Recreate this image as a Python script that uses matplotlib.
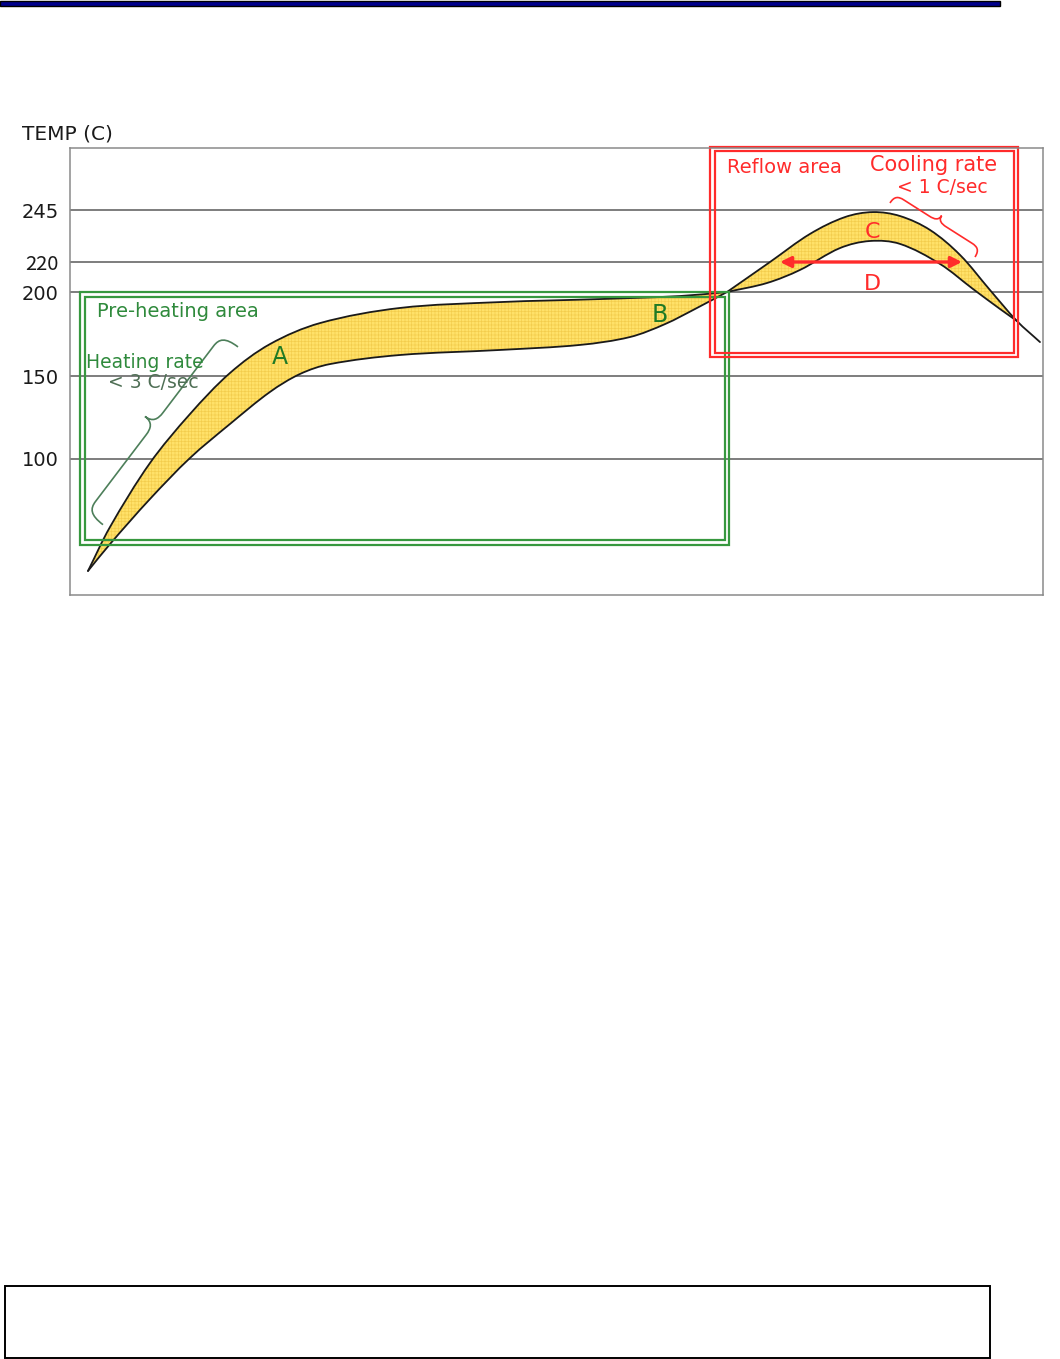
import numpy as np
import matplotlib
matplotlib.use("Agg")
import matplotlib.pyplot as plt
from matplotlib.path import Path
from matplotlib.patches import PathPatch, Rectangle
from matplotlib.transforms import IdentityTransform

# ---- reflow profile window: time (s) and temperature (C) ----
heat_time_upper = [18, 40, 80, 120, 160, 200, 250, 330, 430, 530, 610, 657]
heat_temp_upper = [32.5, 59.0, 97.6, 127.1, 151.8, 169.0, 181.5, 190.5, 194.0,
                   195.8, 197.6, 200.0]
heat_time_lower = [18, 40, 80, 120, 160, 200, 230, 260, 330, 430, 510, 560, 595, 627, 657]
heat_temp_lower = [32.5, 48.7, 75.9, 100.6, 121.1, 140.4, 151.2, 157.1, 162.5,
                   165.5, 168.5, 173.2, 180.9, 190.5, 200.0]

reflow_time_upper = [657, 700, 740, 775, 803, 830, 860, 890, 920, 947, 970]
reflow_temp_upper = [200.0, 220.0, 233.5, 241.6, 244.0, 242.1, 235.4, 223.4,
                     201.3, 182.7, 170.2]
reflow_time_lower = [657, 697, 730, 770, 800, 830, 870, 903, 930, 947]
reflow_temp_lower = [200.0, 206.0, 214.7, 226.7, 230.1, 228.7, 218.7, 202.0,
                     189.9, 182.7]

grid_temps = [100, 150, 200, 220, 245]
grid_labels = ["100", "150", "200", "220", "245"]

# zones (time span, temperature span)
preheat_zone = (10, 659, 48.4, 200.0)
reflow_zone = (640, 948, 161.3, 275.5)
# time above liquidus (arrow D) at 220 C
tal_time = (710, 892)
tal_temp = 220

GREEN = "#37983f"
GREEN_TXT = "#2f8a3c"
GREEN_DARK = "#1f7a25"
RED = "#ff2b2b"
FILL = "#ffe169"
HATCH = "#f3cc4c"

plt.rcParams["hatch.linewidth"] = 0.45
plt.rcParams["font.family"] = ["DejaVu Sans"]

W, H = 1060, 1359
fig = plt.figure(figsize=(W / 100, H / 100), dpi=100)
ax = fig.add_axes([70 / W, 1 - 595 / H, 973 / W, 447 / H])

# schematic (piecewise linear) temperature axis
scale_temps = [0, 18, 100, 150, 200, 220, 245, 275, 300]
scale_pos = [-30, 0, 136, 219, 303, 333, 385, 447, 499]


def fwd(t):
    return np.interp(t, scale_temps, scale_pos)


def inv(p):
    return np.interp(p, scale_pos, scale_temps)


ax.set_yscale("function", functions=(fwd, inv))
ax.set_xlim(0, 973)
ax.set_ylim(18, 275)
ax.set_xticks([])
ax.set_yticks(grid_temps, grid_labels)
ax.tick_params(axis="y", length=0, pad=8, labelsize=14, labelcolor="#1a1a1a")
for lab in ax.get_yticklabels():
    if lab.get_text() == "220":
        lab.set_fontfamily(["Noto Sans CJK JP", "DejaVu Sans"])
        lab.set_fontsize(14.5)
ax.grid(axis="y", color="#5a5a5a", lw=1.1)
ax.set_axisbelow(True)
for sp in ax.spines.values():
    sp.set_color("#8a8a8a")
    sp.set_linewidth(1.1)


def smooth_segments(xs, ys):
    """Cubic Bezier segments through the points, built in display space."""
    p = ax.transData.transform(np.column_stack([xs, ys]))
    n = len(p)
    d = np.zeros_like(p)
    d[1:-1] = p[2:] - p[:-2]
    d[0] = p[1] - p[0]
    d[-1] = p[-1] - p[-2]
    d = d / np.linalg.norm(d, axis=1)[:, None]
    segs = []
    for i in range(n - 1):
        L = np.linalg.norm(p[i + 1] - p[i]) / 3
        segs.append((p[i], p[i] + d[i] * L, p[i + 1] - d[i + 1] * L, p[i + 1]))
    return segs


def seg_path(segs):
    verts = [segs[0][0]]
    codes = [Path.MOVETO]
    for s in segs:
        verts += [s[1], s[2], s[3]]
        codes += [Path.CURVE4] * 3
    return Path(verts, codes)


def band(up_segs, lo_segs):
    verts = [up_segs[0][0]]
    codes = [Path.MOVETO]
    for s in up_segs:
        verts += [s[1], s[2], s[3]]
        codes += [Path.CURVE4] * 3
    verts.append(lo_segs[-1][3])
    codes.append(Path.LINETO)
    for s in reversed(lo_segs):
        verts += [s[2], s[1], s[0]]
        codes += [Path.CURVE4] * 3
    verts.append(verts[0])
    codes.append(Path.CLOSEPOLY)
    return Path(verts, codes)


def add_path(path, **kw):
    patch = PathPatch(path, transform=IdentityTransform(), **kw)
    ax.add_artist(patch)
    return patch


hu = smooth_segments(heat_time_upper, heat_temp_upper)
hl = smooth_segments(heat_time_lower, heat_temp_lower)
ru = smooth_segments(reflow_time_upper, reflow_temp_upper)
rl = smooth_segments(reflow_time_lower, reflow_temp_lower)

for up, lo in ((hu, hl), (ru[:-1], rl)):
    add_path(band(up, lo), facecolor=FILL, edgecolor=HATCH, lw=0,
             hatch="+++++", zorder=1.2)
for segs in (hu, hl, ru, rl):
    add_path(seg_path(segs), facecolor="none", edgecolor="#1a1a1a", lw=1.3,
             zorder=1.5, capstyle="round")


def double_box(zone, color, gap=4.5, lw=1.6):
    x0, x1, t0, t1 = zone
    (a, b), (c, d) = ax.transData.transform([(x0, t0), (x1, t1)])
    for g in (0, gap):
        ax.add_artist(Rectangle((a + g, b + g), (c - a) - 2 * g, (d - b) - 2 * g,
                                transform=IdentityTransform(), fill=False,
                                edgecolor=color, lw=lw, zorder=2, clip_on=False))


double_box(preheat_zone, GREEN)
double_box(reflow_zone, RED)


def brace(p0, p1, h, c, r, color, lw=1.2):
    """Curly brace between two points, cusp offset to the left of p0->p1."""
    a, b = ax.transData.transform([p0, p1])
    u = b - a
    L = np.linalg.norm(u)
    u = u / L
    n = np.array([-u[1], u[0]])

    def P(s, v):
        return a + u * s + n * v

    m = L / 2
    verts = [P(0, 0),
             P(0, h * 0.8), P(r * 0.35, h), P(r, h),
             P(m - r, h),
             P(m - r * 0.4, h), P(m, h + (c - h) * 0.2), P(m, c),
             P(m, h + (c - h) * 0.2), P(m + r * 0.4, h), P(m + r, h),
             P(L - r, h),
             P(L - r * 0.35, h), P(L, h * 0.8), P(L, 0)]
    codes = ([Path.MOVETO] + [Path.CURVE4] * 3 + [Path.LINETO] + [Path.CURVE4] * 6
             + [Path.LINETO] + [Path.CURVE4] * 3)
    add_path(Path(verts, codes), facecolor="none", edgecolor=color, lw=lw, zorder=2.5)


brace((33, 60.4), (168, 167.3), h=20, c=32, r=14, color="#4d7f5a")
brace((820, 248.4), (905, 222.4), h=10, c=17, r=10, color=RED)

# arrow D across the time above 220 C
ax.annotate("", xy=(tal_time[1], tal_temp), xytext=(tal_time[0], tal_temp),
            arrowprops=dict(arrowstyle="<|-|>", color=RED, lw=2.4,
                            mutation_scale=16, shrinkA=0, shrinkB=0), zorder=3)

# labels
ax.text(27, 188.1, "Pre-heating area", color=GREEN_TXT, fontsize=14,
        ha="left", va="center", zorder=3)
ax.text(16, 158.3, "Heating rate", color=GREEN_TXT, fontsize=13.5,
        ha="left", va="center", zorder=3)
ax.text(38, 145.8, "< 3 C/sec", color="#4f6f55", fontsize=13.5,
        ha="left", va="center", zorder=3)
ax.text(210, 161.3, "A", color=GREEN_DARK, fontsize=17, ha="center", va="center", zorder=3)
ax.text(590, 186.3, "B", color=GREEN_DARK, fontsize=17, ha="center", va="center", zorder=3)
ax.text(657, 265.7, "Reflow area", color=RED, fontsize=14, ha="left", va="center", zorder=3)
ax.text(800, 266.7, "Cooling rate", color=RED, fontsize=15, ha="left", va="center", zorder=3)
ax.text(827, 256.1, "< 1 C/sec", color=RED, fontsize=13.5, ha="left", va="center", zorder=3)
ax.text(802, 234.4, "C", color=RED, fontsize=16, ha="center", va="center", zorder=3)
ax.text(802, 205.3, "D", color=RED, fontsize=16, ha="center", va="center", zorder=3)

fig.text(22 / W, 1 - 134 / H, "TEMP (C)", fontsize=14.5, color="#1a1a1a",
         ha="left", va="center")

# page header rule and empty caption frame
fig.add_artist(Rectangle((0, 1 - 6 / H), 1000 / W, 5 / H, transform=fig.transFigure,
                         facecolor="#00008c", edgecolor="black", lw=1))
fig.add_artist(Rectangle((5 / W, 1 - 1358 / H), 985 / W, 72 / H, transform=fig.transFigure,
                         facecolor="none", edgecolor="black", lw=1.4))

fig.savefig("out.png", dpi=100)
